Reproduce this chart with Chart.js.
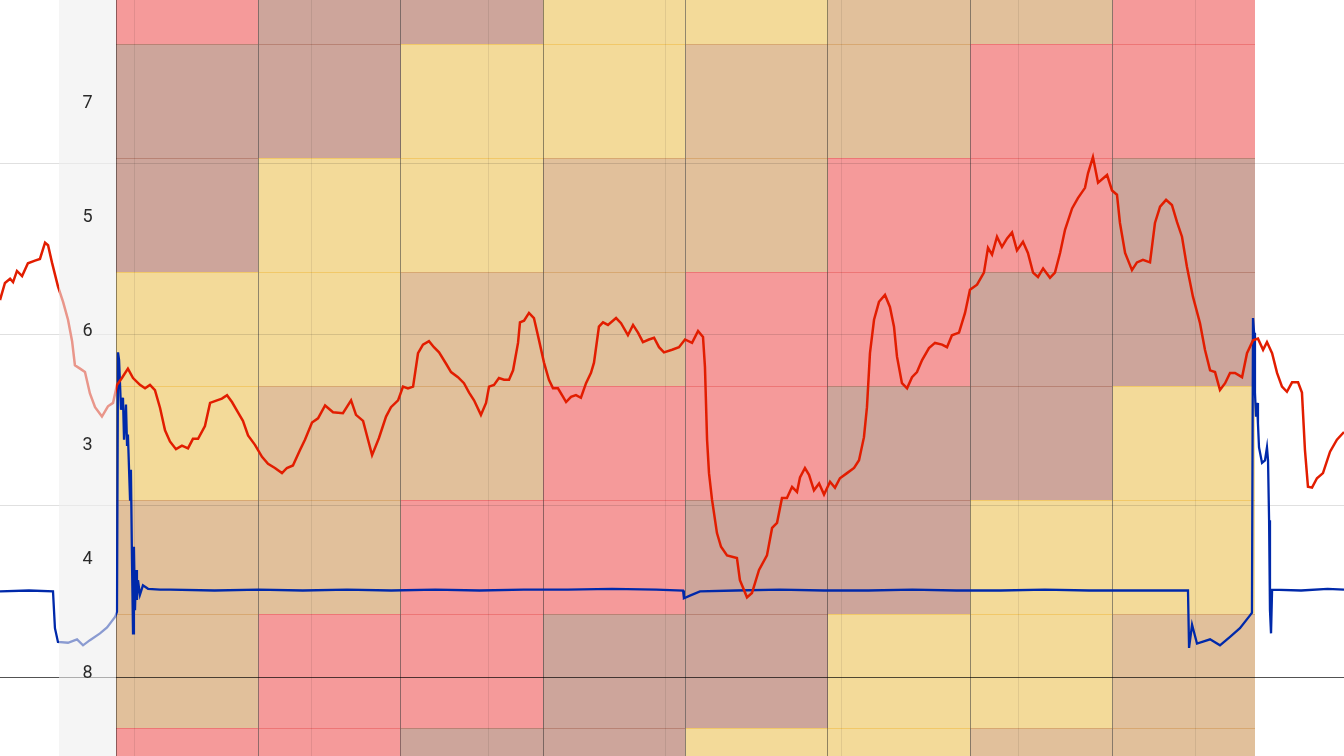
<!DOCTYPE html>
<html><head><meta charset="utf-8">
<script src="https://cdn.jsdelivr.net/npm/chart.js@4.4.1/dist/chart.umd.min.js"></script>
<style>
html,body{margin:0;padding:0;background:#fff;overflow:hidden;}
#wrap{position:relative;width:1344px;height:756px;}
#hm{position:absolute;left:116px;top:0;}
#ln{position:absolute;left:0;top:0;}
</style></head><body>
<div id="wrap">
<canvas id="hm" width="1139" height="756"></canvas>
<canvas id="ln" width="1344" height="756"></canvas>
</div>
<script>
// ---- heatmap data ----
const columns = ['C1','C2','C3','C4','C5','C6','C7','C8'];
const rowLabels = ['', '7', '5', '6', '3', '4', '8', ''];
// level per cell: 1 = yellow, 2 = tan, 3 = mauve, 4 = pink
const levels = [
  [4,3,3,1,1,2,2,4],
  [3,3,1,1,2,2,4,4],
  [3,1,1,2,2,4,4,3],
  [1,1,2,2,4,4,3,3],
  [1,2,2,4,4,3,3,1],
  [2,2,4,4,3,3,1,1],
  [2,4,4,3,3,1,1,2],
  [4,4,3,3,1,1,2,2]
];
const levelColors  = {1:'#f3da99', 2:'#e1c09b', 3:'#cda59b', 4:'#f59a9a'};
const levelBorders = {1:'#f0c25a', 2:'#d3a064', 3:'#b07868', 4:'#ea6a6a'};

// ---- line series: [time, value] ----
const redPoints = [
[-76.4,44.0],[-73.6,46.0],[-70.7,46.5],[-69.0,46.1],[-66.8,47.4],[-63.9,46.8],[-60.6,48.3],[-56.6,48.6],[-53.8,48.8],[-50.9,50.7],[-49.2,50.4],[-47.0,48.4],[-43.6,45.6],[-40.7,43.8],[-37.9,41.7],[-35.6,39.2],[-34.0,36.4],[-31.1,36.0],[-28.3,35.6],[-25.5,33.1],[-22.6,31.5],[-18.7,30.4],[-15.3,31.6],[-12.4,32.0],[-10.2,34.1],[-7.4,34.9],[-4.0,36.0],[-1.1,34.9],[2.8,34.1],[5.7,33.7],[8.5,34.1],[11.3,33.5],[14.2,31.4],[17.0,28.8],[19.8,27.5],[23.2,26.6],[26.6,27.0],[30.0,26.7],[32.8,27.8],[35.7,27.8],[39.6,29.3],[42.5,32.0],[46.4,32.3],[49.2,32.5],[52.1,32.9],[54.9,32.1],[58.3,30.9],[61.1,29.9],[64.0,28.2],[67.9,27.1],[71.9,25.7],[75.3,24.9],[79.2,24.4],[83.2,23.8],[86.0,24.4],[89.4,24.7],[93.4,26.5],[96.2,27.7],[100.2,29.7],[103.6,30.2],[107.6,31.7],[112.1,30.9],[117.7,30.8],[122.3,32.3],[125.1,30.6],[129.1,29.9],[131.9,27.7],[134.2,25.9],[138.1,27.9],[142.1,30.4],[144.9,31.5],[148.9,32.3],[151.7,33.9],[154.5,33.7],[157.4,33.9],[160.2,37.8],[163.0,38.8],[166.4,39.2],[169.2,38.5],[172.1,37.9],[176.0,36.6],[178.9,35.6],[182.8,35.0],[186.2,34.3],[189.1,33.2],[191.9,32.3],[195.8,30.6],[198.7,32.0],[200.4,33.9],[203.2,34.1],[206.0,34.9],[208.9,34.7],[211.7,34.7],[214.0,35.8],[216.8,39.0],[217.9,41.4],[220.2,41.6],[223.0,42.5],[225.8,41.9],[228.7,39.3],[231.5,36.7],[234.3,34.7],[236.6,33.7],[239.4,33.7],[242.3,32.7],[244.0,32.1],[246.8,32.7],[249.6,32.9],[252.4,32.6],[255.3,34.3],[258.1,35.5],[259.8,36.7],[262.6,40.9],[264.9,41.4],[267.7,41.1],[272.3,41.9],[275.1,41.3],[279.0,39.9],[281.9,41.1],[284.7,40.2],[287.5,39.1],[290.9,39.4],[293.8,39.6],[296.6,38.5],[299.4,37.9],[304.0,38.2],[307.9,38.5],[311.3,39.4],[315.3,39.0],[318.7,40.4],[321.5,39.7],[322.6,36.2],[323.8,27.7],[324.9,23.8],[326.6,20.7],[329.4,16.8],[331.7,15.2],[335.1,14.2],[340.7,13.9],[342.4,11.3],[346.4,9.3],[349.2,9.8],[353.2,12.5],[357.7,14.2],[360.6,17.4],[363.4,18.0],[366.2,20.9],[369.0,20.9],[371.9,22.2],[374.7,21.6],[376.4,23.3],[379.2,24.4],[381.5,23.6],[384.3,21.8],[387.2,22.6],[390.0,21.3],[393.4,22.8],[396.2,22.1],[399.0,23.2],[403.0,23.8],[407.0,24.4],[409.8,25.3],[412.6,28.0],[414.3,31.5],[416.0,37.8],[418.3,41.7],[421.1,43.8],[424.5,44.6],[427.3,43.2],[429.6,40.9],[431.3,37.4],[434.1,34.3],[437.0,33.7],[439.8,35.0],[442.6,35.6],[445.5,37.0],[449.4,38.4],[452.8,39.0],[456.8,38.8],[459.6,38.5],[462.4,39.9],[466.4,40.2],[469.8,42.5],[472.6,45.2],[476.6,45.8],[480.5,47.2],[482.8,50.1],[485.1,49.3],[487.9,51.4],[490.7,50.2],[493.6,51.2],[496.4,51.9],[499.2,49.8],[502.6,50.8],[505.4,49.5],[508.3,47.2],[511.1,46.7],[514.0,47.7],[517.9,46.6],[520.7,47.2],[523.6,49.5],[526.4,52.2],[530.4,54.7],[533.7,55.9],[537.7,57.1],[539.4,58.8],[542.2,60.7],[545.1,57.7],[550.2,58.6],[553.0,56.8],[555.8,56.3],[557.5,53.0],[560.4,49.5],[564.3,47.5],[567.1,48.4],[570.5,48.7],[574.5,48.4],[577.3,53.0],[580.2,54.9],[583.6,55.7],[586.9,55.1],[589.8,53.1],[592.6,51.4],[595.4,47.9],[598.8,44.4],[602.8,41.3],[605.6,38.2],[608.5,35.8],[611.3,35.6],[614.1,33.5],[617.0,34.3],[619.8,35.5],[622.6,35.5],[626.6,35.0],[629.4,37.8],[632.8,39.3],[635.6,39.5],[638.5,38.2],[640.7,39.1],[643.6,37.8],[646.4,35.5],[649.2,33.9],[652.0,33.3],[654.9,34.4],[658.3,34.4],[660.5,33.2],[662.2,26.5],[663.9,22.2],[666.2,22.1],[669.0,23.2],[672.4,23.8],[676.4,26.3],[680.3,27.7],[684.3,28.6]
];
const bluePoints = [
[-76.4,10.0],[-60,10.1],[-46.4,10.0],[-45.3,5.7],[-43.6,4.1],[-37.9,4.0],[-32.8,4.4],[-29.4,3.7],[-25.5,4.3],[-19.8,5.1],[-15.8,5.8],[-11.3,7.0],[-10.2,7.6],[-9.6,37.9],[-9.0,37.0],[-7.9,31.2],[-6.8,32.6],[-6.2,27.7],[-5.1,31.8],[-4.5,27.1],[-4.0,28.3],[-2.8,20.7],[-2.3,24.2],[-1.7,13.7],[-1.1,5.1],[-0.6,15.2],[0.0,7.8],[0.6,12.5],[1.1,9.0],[1.7,11.3],[2.8,9.6],[4.5,10.7],[7.4,10.3],[14.2,10.2],[20,10.2],[45,10.1],[70,10.2],[95,10.1],[120,10.2],[145,10.1],[170,10.2],[195,10.1],[220,10.2],[245,10.2],[270,10.3],[295,10.2],[310.2,10.1],[310.7,9.2],[314.1,9.5],[319.8,10.0],[340,10.1],[365,10.2],[390,10.1],[415,10.1],[440,10.2],[465,10.1],[490,10.1],[515,10.2],[540,10.1],[565,10.1],[590,10.1],[596.0,10.1],[596.6,3.4],[598.3,6.1],[601.1,3.9],[608.5,4.4],[614.1,3.7],[619.8,4.7],[625.4,5.7],[631.1,7.2],[632.2,7.5],[632.8,41.9],[633.4,40.2],[633.9,33.2],[634.5,30.4],[635.1,32.0],[635.6,29.6],[636.2,26.8],[637.9,25.0],[639.6,25.3],[640.7,26.8],[641.3,25.3],[641.9,18.3],[642.4,7.8],[643.0,5.1],[643.6,10.2],[660,10.1],[675,10.3],[684.3,10.2]
];

// ---- heatmap chart ----
const hm = new Chart(document.getElementById('hm'), {
  type: 'bar',
  data: {
    labels: columns,
    datasets: levels.map((row, r) => ({
      data: row.map(() => [r - 0.5, r + 0.5]),
      backgroundColor: row.map(l => levelColors[l]),
      borderColor: row.map(l => levelBorders[l]),
      borderWidth: {top: 1, bottom: 0, left: 0, right: 0},
      borderSkipped: false,
      grouped: false,
      barPercentage: 1,
      categoryPercentage: 1
    }))
  },
  options: {
    responsive: false, animation: false, devicePixelRatio: 1,
    layout: {padding: 0},
    plugins: {legend: {display: false}, tooltip: {enabled: false}},
    scales: {
      x: {type: 'category', offset: true,
          grid: {offset: true, color: 'rgba(0,0,0,0.42)', drawTicks: false, z: 1},
          ticks: {display: false}, border: {display: false}},
      y: {type: 'linear', reverse: true, min: 0.114, max: 6.746, display: false}
    }
  }
});

// ---- overlay band + row labels on the line chart ----
const bandPlugin = {
  id: 'band',
  afterDatasetsDraw(chart) {
    const c = chart.ctx;
    const bandLeft = 59;
    const bandRight = document.getElementById('hm').offsetLeft;
    c.save();
    c.fillStyle = 'rgba(238,238,238,0.58)';
    c.fillRect(bandLeft, 0, bandRight - bandLeft, chart.height);
    c.fillStyle = '#2a2a2a';
    c.font = '18px Roboto, "Noto Sans", sans-serif';
    c.textAlign = 'center';
    c.textBaseline = 'middle';
    rowLabels.forEach((lab, r) => {
      if (!lab) return;
      const y = hm.scales.y.getPixelForValue(r);
      c.fillText(lab, (bandLeft + bandRight) / 2, y + 2.5);
    });
    c.restore();
  }
};

new Chart(document.getElementById('ln'), {
  type: 'line',
  data: {
    datasets: [
      {data: bluePoints.map(p => ({x: p[0], y: p[1]})), borderColor: '#0029aa', borderWidth: 2.3,
       pointRadius: 0, tension: 0, fill: false, order: 2},
      {data: redPoints.map(p => ({x: p[0], y: p[1]})), borderColor: '#e21d00', borderWidth: 2.5,
       pointRadius: 0, tension: 0, fill: false, order: 1}
    ]
  },
  options: {
    responsive: false, animation: false, devicePixelRatio: 1,
    layout: {padding: 0},
    plugins: {legend: {display: false}, tooltip: {enabled: false}},
    scales: {
      x: {type: 'linear', min: -76.4, max: 684.3,
          ticks: {display: false, stepSize: 100, includeBounds: false},
          grid: {color: 'rgba(0,0,0,0.08)', drawTicks: false}, border: {display: false}},
      y: {type: 'linear', min: -9.22, max: 79.03,
          ticks: {display: false, stepSize: 20, includeBounds: false},
          grid: {color: ctx => (ctx.tick && ctx.tick.value === 0) ? 'rgba(0,0,0,0.68)' : 'rgba(0,0,0,0.12)', drawTicks: false},
          border: {display: false}}
    }
  },
  plugins: [bandPlugin]
});
</script>
</body></html>
